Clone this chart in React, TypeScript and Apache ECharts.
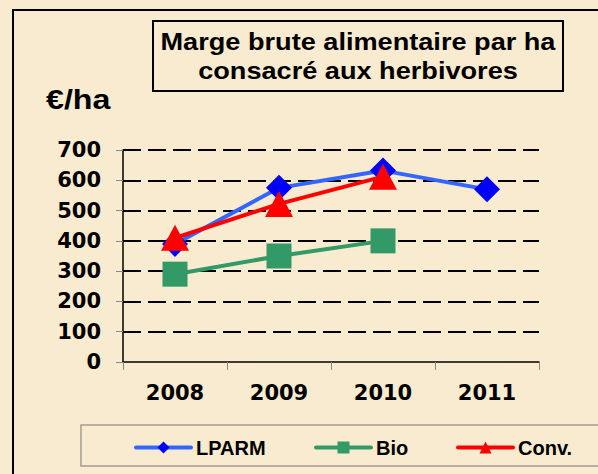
import React, { useEffect, useRef } from "react";
import * as echarts from "echarts";

const years = ["2008", "2009", "2010", "2011"];
const lparm = [390, 575, 632, 570];
const bio = [290, 350, 400, null];
const conv = [410, 522, 612, null];
const yMin = 0;
const yMax = 700;
const yStep = 100;
const titleLines = ["Marge brute alimentaire par ha", "consacré aux herbivores"];
const unitLabel = "€/ha";

const BG = "#f8ebcf";
const AXIS_FONT = "'DejaVu Sans', 'Liberation Sans', Arial, sans-serif";
const TEXT_FONT = "'Liberation Sans', Arial, sans-serif";

export default function App() {
  const ref = useRef<HTMLDivElement>(null);
  useEffect(() => {
    const chart = echarts.init(ref.current!, null, { renderer: "svg" });
    const legendText = {
      fontFamily: TEXT_FONT,
      fontSize: 20,
      fontWeight: "bold",
      color: "#000",
    };
    const legendBase = {
      top: 437.5,
      itemWidth: 55,
      itemHeight: 15,
      padding: 0,
      itemGap: 0,
      textStyle: legendText,
      lineStyle: { width: 4, cap: "round" },
      selectedMode: false,
    };
    chart.setOption({
      animation: false,
      backgroundColor: BG,
      graphic: [
        {
          type: "rect",
          shape: { x: 13, y: 10, width: 620, height: 500 },
          style: { fill: "none", stroke: "#000", lineWidth: 2 },
          z: -1,
        },
        {
          type: "rect",
          shape: { x: 153, y: 21, width: 410, height: 70 },
          style: { fill: BG, stroke: "#000", lineWidth: 2 },
        },
        {
          type: "rect",
          shape: { x: 81, y: 425, width: 540, height: 41 },
          style: { fill: "none", stroke: "#a39c92", lineWidth: 1.5 },
        },
        {
          type: "text",
          x: 358,
          y: 42,
          scaleX: 1.18,
          style: {
            text: titleLines[0],
            x: 0,
            y: 0,
            align: "center",
            verticalAlign: "middle",
            fontFamily: TEXT_FONT,
            fontSize: 23,
            fontWeight: "bold",
            fill: "#000",
          },
        },
        {
          type: "text",
          x: 358,
          y: 71,
          scaleX: 1.18,
          style: {
            text: titleLines[1],
            x: 0,
            y: 0,
            align: "center",
            verticalAlign: "middle",
            fontFamily: TEXT_FONT,
            fontSize: 23,
            fontWeight: "bold",
            fill: "#000",
          },
        },
        {
          type: "text",
          x: 46,
          y: 99,
          scaleX: 1.15,
          style: {
            text: unitLabel,
            x: 0,
            y: 0,
            align: "left",
            verticalAlign: "middle",
            fontFamily: TEXT_FONT,
            fontSize: 28,
            fontWeight: "bold",
            fill: "#000",
          },
        },
      ],
      legend: [
        { ...legendBase, left: 134, data: ["LPARM"] },
        { ...legendBase, left: 314, data: ["Bio"] },
        { ...legendBase, left: 456, data: ["Conv."] },
      ],
      grid: { left: 123, right: 59, top: 150, bottom: 112, containLabel: false },
      xAxis: {
        type: "category",
        data: years,
        boundaryGap: true,
        axisLine: { show: true, lineStyle: { color: "#000", width: 1.5 } },
        axisTick: { show: true, length: 8, lineStyle: { color: "#888", width: 1 } },
        axisLabel: {
          margin: 20,
          fontFamily: AXIS_FONT,
          fontSize: 21,
          fontWeight: "bold",
          color: "#000",
        },
        splitLine: { show: false },
      },
      yAxis: {
        type: "value",
        min: yMin,
        max: yMax,
        interval: yStep,
        axisLine: { show: true, lineStyle: { color: "#000", width: 1.5 } },
        axisTick: { show: true, length: 7, lineStyle: { color: "#888", width: 1 } },
        axisLabel: {
          margin: 22,
          fontFamily: AXIS_FONT,
          fontSize: 21,
          fontWeight: "bold",
          color: "#000",
        },
        splitLine: {
          show: true,
          showMinLine: false,
          lineStyle: { type: [18, 7], color: "#000", width: 2 },
        },
      },
      series: [
        {
          name: "LPARM",
          type: "line",
          data: lparm,
          symbol: "diamond",
          symbolSize: 26,
          lineStyle: { color: "#3366ff", width: 4 },
          itemStyle: { color: "#0000ff" },
        },
        {
          name: "Bio",
          type: "line",
          data: bio,
          symbol: "rect",
          symbolSize: 25,
          lineStyle: { color: "#339966", width: 4 },
          itemStyle: { color: "#339966" },
        },
        {
          name: "Conv.",
          type: "line",
          data: conv,
          symbol: "triangle",
          symbolSize: [28, 26],
          lineStyle: { color: "#ff0000", width: 4 },
          itemStyle: { color: "#ff0000" },
        },
      ],
    });
    return () => chart.dispose();
  }, []);
  return (
    <div
      ref={ref}
      style={{ position: "absolute", left: 0, top: 0, width: 598, height: 474 }}
    />
  );
}
